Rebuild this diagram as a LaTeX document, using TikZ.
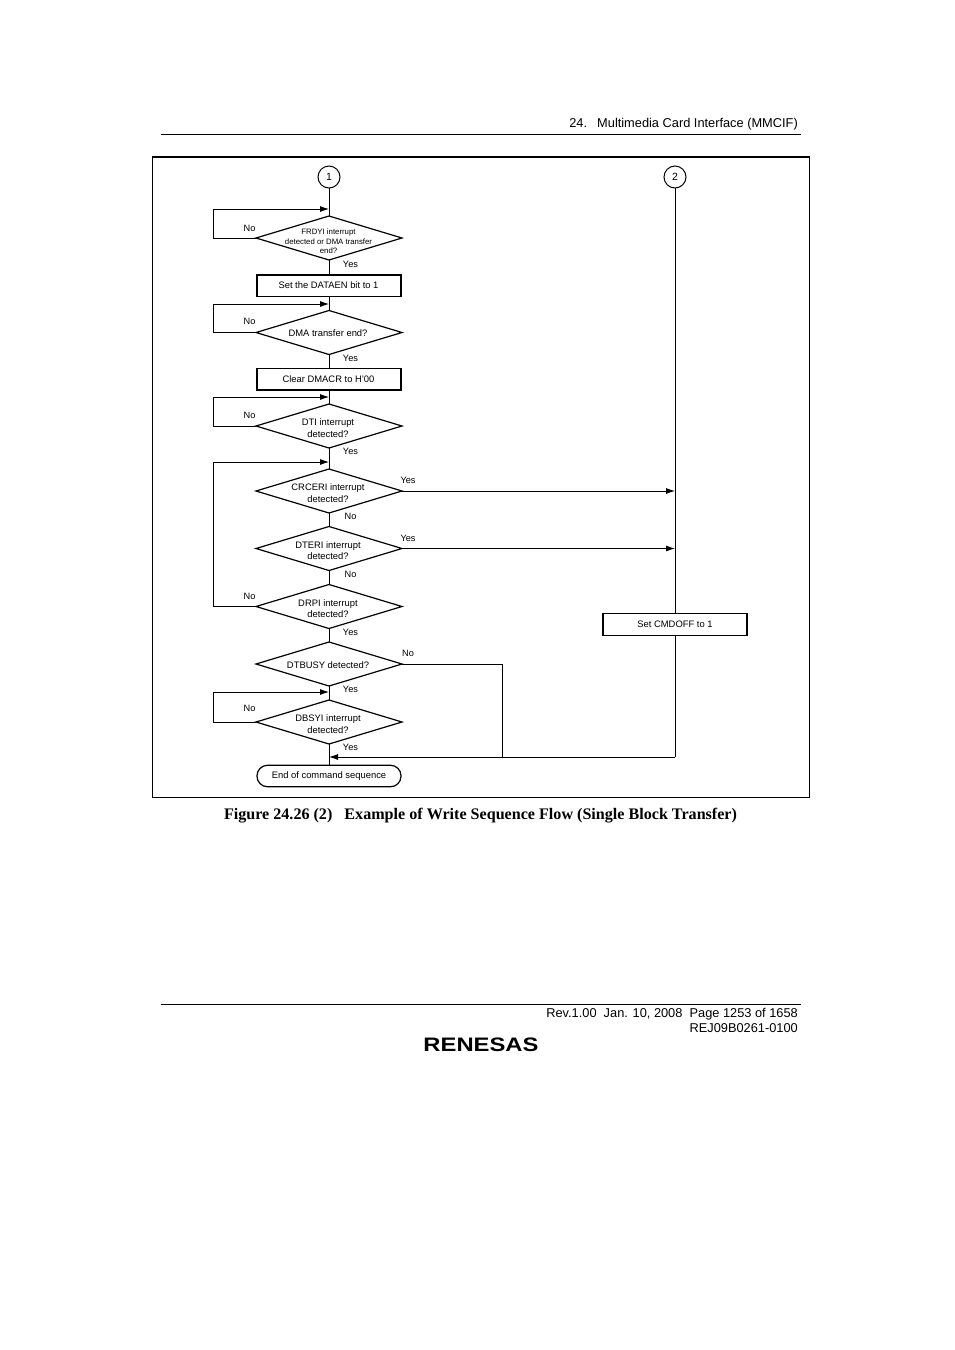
\documentclass[tikz,border=0pt]{standalone}
\usepackage{fontspec}
\setmainfont{Liberation Sans}
\newfontfamily\capfont{Liberation Serif}
\usetikzlibrary{shapes.geometric,arrows.meta}
\tikzset{
  x=1pt,y=-1pt,
  flow/.style={draw=black,line width=0.8pt},
  arr/.style={flow,-{Latex[length=9pt,width=6pt]}},
  diamondbase/.style={diamond,draw=black,line width=1.2pt,minimum width=146pt,minimum height=44pt,inner sep=0pt,outer sep=0pt},
  decide/.style={diamondbase,
     label={[align=center,font=\fontsize{9.4}{11.6}\selectfont,inner sep=0pt,xshift=-1pt,yshift=-2pt]center:#1}},
  decideone/.style={diamondbase,
     label={[align=center,font=\fontsize{9.4}{11.6}\selectfont,inner sep=0pt,xshift=-1pt,yshift=-1pt]center:#1}},
  decidetiny/.style={diamondbase,
     label={[align=center,font=\fontsize{7.8}{9.6}\selectfont,inner sep=0pt,xshift=-0.5pt,yshift=-3.6pt]center:#1}},
  act/.style={rectangle,draw=black,line width=1.5pt,minimum width=144pt,minimum height=21.5pt,inner sep=0pt,outer sep=0pt,font=\fontsize{9.4}{11}\selectfont},
  thinact/.style={act,line width=1.1pt},
  term/.style={act,rounded corners=10.5pt,line width=1.2pt},
  conn/.style={circle,draw=black,line width=1pt,minimum size=22pt,inner sep=0pt,outer sep=0pt,font=\fontsize{10.5}{12}\selectfont},
  lab/.style={inner sep=0pt,font=\fontsize{9.2}{11}\selectfont},
  page/.style={inner sep=0pt,font=\fontsize{12.8}{15}\selectfont},
}
\begin{document}
\begin{tikzpicture}
\useasboundingbox (0,0) rectangle (954,1350);
% page furniture
\coordinate (hl) at (161,134); \coordinate (hr) at (801,134);
\coordinate (fl) at (161,1004); \coordinate (fr) at (801,1004);
\draw[line width=0.9pt] (hl) -- (hr);
\draw[line width=0.9pt] (fl) -- (fr);
\node[page,anchor=east] (header) at (798,124.3) {24.\ \ \hspace{3pt}Multimedia Card Interface (MMCIF)};
\node[page,anchor=east] (foot1) at (798,1014) {Rev.1.00\ \ Jan. 10, 2008\ \ Page 1253 of 1658};
\node[page,anchor=east] (foot2) at (798,1028.3) {REJ09B0261-0100};
\node[inner sep=0pt,font=\fontsize{19.5}{20}\selectfont\bfseries,xscale=1.22] (logo) at (481,1044.5) {RENESAS};
\node[inner sep=0pt,font=\capfont\bfseries\fontsize{16.1}{18}\selectfont] (caption) at (480.5,816) {Figure 24.26 (2)\ \ \ Example of Write Sequence Flow (Single Block Transfer)};
% frame
\draw[line width=0.9pt] (152.5,157) rectangle (809,797);
\draw[line width=2pt] (152,157) -- (809.5,157);
% nodes
\node[conn] (c1) at (329,177) {1};
\node[conn] (c2) at (675,177) {2};
\node[decidetiny={FRDYI interrupt\\detected or DMA transfer\\end?}] (d1) at (329,238) {};
\node[act] (r1) at (329,285.5) {\hspace{-1pt}Set the DATAEN bit to 1\hspace{1pt}};
\node[decideone={DMA transfer end?}] (d2) at (329,332.5) {};
\node[act] (r2) at (329,379) {\hspace{-1pt}Clear DMACR to H'00\hspace{1pt}};
\node[decide={DTI interrupt\\detected?}] (d3) at (329,426) {};
\node[decide={CRCERI interrupt\\detected?}] (d4) at (329,491) {};
\node[decide={DTERI interrupt\\detected?}] (d5) at (329,548.5) {};
\node[decide={DRPI interrupt\\detected?}] (d6) at (329,606.5) {};
\node[decideone={DTBUSY detected?}] (d7) at (329,664) {};
\node[decide={DBSYI interrupt\\detected?}] (d8) at (329,722) {};
\node[term] (e) at (329,776) {\raisebox{-0.8pt}{End of command sequence}};
\node[thinact] (r3) at (675,624.5) {Set CMDOFF to 1};
% labels
\node[lab] (n1) at (249.5,228) {No};
\node[lab] (y1) at (350.5,264) {Yes};
\node[lab] (n2) at (249.5,321) {No};
\node[lab] (y2) at (350.5,358) {Yes};
\node[lab] (n3) at (249.5,415) {No};
\node[lab] (y3) at (350.5,451) {Yes};
\node[lab] (y4) at (408,480) {Yes};
\node[lab] (n4) at (350.5,516) {No};
\node[lab] (y5) at (408,538) {Yes};
\node[lab] (n5) at (350.5,574) {No};
\node[lab] (n6) at (249.5,596) {No};
\node[lab] (y6) at (350.5,632) {Yes};
\node[lab] (n7) at (408,653) {No};
\node[lab] (y7) at (350.5,689) {Yes};
\node[lab] (n8) at (249.5,708) {No};
\node[lab] (y8) at (350.5,747) {Yes};
% junction coordinates
\coordinate (j1) at (329,209);
\coordinate (j2) at (329,304);
\coordinate (j3) at (329,397);
\coordinate (j4) at (329,462);
\coordinate (j5) at (329,692);
\coordinate (j6) at (329,757);
\coordinate (t4) at (675,491);
\coordinate (t5) at (675,548.5);
\coordinate (t6) at (675,757);
% main column
\draw[flow] (c1) -- (d1);
\draw[flow] (d1) -- (r1);
\draw[flow] (r1) -- (d2);
\draw[flow] (d2) -- (r2);
\draw[flow] (r2) -- (d3);
\draw[flow] (d3) -- (d4);
\draw[flow] (d4) -- (d5);
\draw[flow] (d5) -- (d6);
\draw[flow] (d6) -- (d7);
\draw[flow] (d7) -- (d8);
\draw[flow] (d8) -- (e);
% loops
\draw[arr] (d1.west) -- (213.5,238) -- (213.5,209) -- (j1);
\draw[arr] (d2.west) -- (213.5,332.5) -- (213.5,304) -- (j2);
\draw[arr] (d3.west) -- (213.5,426) -- (213.5,397) -- (j3);
\draw[arr] (d6.west) -- (213.5,606.5) -- (213.5,462) -- (j4);
\draw[arr] (d8.west) -- (213.5,722) -- (213.5,692) -- (j5);
% right column
\draw[flow] (c2) -- (r3);
\draw[flow] (r3) -- (t6);
\draw[arr] (t6) -- (j6);
\draw[arr] (d4.east) -- (t4);
\draw[arr] (d5.east) -- (t5);
\draw[flow] (d7.east) -- (502,664) -- (502,757);
\end{tikzpicture}
\end{document}
